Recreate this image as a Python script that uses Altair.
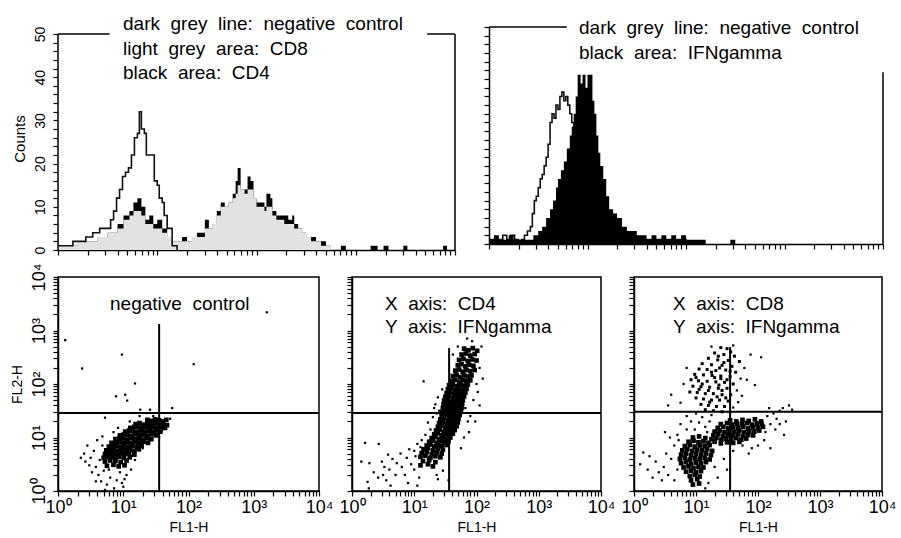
import math
import json
import altair as alt
import pandas as pd

FONT = "Liberation Sans"

# ---------------- top-left histogram (bin start in log10 FL1, counts) ----------------
NEG1_X = [0.00, 0.08, 0.15, 0.22, 0.28, 0.35, 0.42, 0.48, 0.53, 0.56, 0.59, 0.62, 0.65, 0.68, 0.71,
          0.74, 0.77, 0.80, 0.82, 0.84, 0.87, 0.89, 0.93, 0.97, 1.00, 1.02, 1.05, 1.07, 1.10, 1.15, 1.20]
NEG1_Y = [1, 1, 2, 2, 3, 4, 5, 5, 7, 9, 12, 14, 17, 18, 19,
          22, 26, 27, 32, 28, 27, 22, 22, 16, 15, 12, 11, 8, 5, 1, 0]

CD4_X = [0.00, 0.10, 0.20, 0.30, 0.40, 0.50, 0.60, 0.66, 0.72, 0.76, 0.80, 0.84, 0.88, 0.92, 0.96,
         1.00, 1.05, 1.10, 1.15, 1.20, 1.25, 1.30, 1.35, 1.40, 1.45, 1.48, 1.52, 1.56, 1.60, 1.64,
         1.68, 1.72, 1.76, 1.79, 1.81, 1.84, 1.88, 1.91, 1.94, 1.97, 2.00, 2.04, 2.08, 2.10, 2.14,
         2.16, 2.20, 2.24, 2.28, 2.32, 2.36, 2.38, 2.42, 2.46, 2.50, 2.55, 2.60, 2.65, 2.70, 2.75,
         2.85, 2.90, 3.15, 3.22, 3.28, 3.33, 3.48, 3.52, 3.88, 3.92, 4.00]
CD4_Y = [1, 1, 2, 2, 3, 4, 6, 8, 9, 11, 12, 10, 7, 8, 6,
         7, 5, 3, 2, 2, 3, 2, 3, 4, 4, 7, 5, 6, 9, 11,
         10, 11, 13, 16, 19, 14, 14, 17, 16, 12, 11, 11, 10, 13, 12,
         9, 8, 8, 8, 7, 8, 6, 5, 4, 3, 3, 2, 2, 1, 0,
         1, 0, 1, 0, 1, 0, 1, 0, 1, 0, 0]

CD8_X = [0.00, 0.10, 0.20, 0.30, 0.40, 0.50, 0.60, 0.66, 0.72, 0.76, 0.80, 0.84, 0.88, 0.92, 0.96,
         1.00, 1.05, 1.10, 1.15, 1.20, 1.25, 1.30, 1.35, 1.40, 1.45, 1.48, 1.52, 1.56, 1.60, 1.64,
         1.68, 1.72, 1.76, 1.79, 1.81, 1.84, 1.88, 1.91, 1.94, 1.97, 2.00, 2.04, 2.08, 2.10, 2.14,
         2.16, 2.20, 2.24, 2.28, 2.32, 2.36, 2.38, 2.42, 2.46, 2.50, 2.55, 2.60, 2.65, 2.70, 2.75, 4.00]
CD8_Y = [1, 1, 2, 2, 3, 4, 5, 7, 8, 9, 9, 8, 6, 6, 5,
         5, 4, 3, 2, 2, 2, 2, 3, 3, 3, 5, 5, 6, 8, 10,
         10, 11, 12, 13, 15, 14, 13, 14, 14, 12, 10, 10, 9, 10, 10,
         8, 7, 7, 6, 6, 6, 5, 5, 4, 3, 2, 2, 1, 1, 0, 0]

# ---------------- top-right histogram ----------------
NEG2_X = [0.00, 0.05, 0.10, 0.14, 0.18, 0.22, 0.26, 0.30, 0.33, 0.36, 0.39, 0.42, 0.44, 0.46, 0.48,
          0.50, 0.52, 0.54, 0.56, 0.58, 0.60, 0.62, 0.64, 0.66, 0.68, 0.70, 0.72, 0.74, 0.76, 0.78,
          0.80, 0.82, 0.84, 0.86, 0.88, 0.90, 0.95, 1.00, 1.05, 1.10, 1.20, 1.30, 1.50, 2.00]
NEG2_Y = [1, 1, 1, 2, 1, 2, 1, 0, 1, 2, 3, 4, 7, 10, 11,
          13, 15, 16, 18, 20, 23, 28, 30, 29, 32, 31, 34, 35, 33, 34,
          32, 30, 28, 27, 24, 20, 15, 10, 6, 4, 2, 1, 1, 0]

IFN_X = [0.00, 0.05, 0.10, 0.15, 0.20, 0.25, 0.30, 0.35, 0.40, 0.45, 0.50, 0.54, 0.58, 0.62, 0.65,
         0.68, 0.70, 0.73, 0.76, 0.79, 0.82, 0.84, 0.86, 0.88, 0.90, 0.93, 0.95, 0.98, 1.00, 1.03,
         1.05, 1.07, 1.09, 1.11, 1.13, 1.16, 1.19, 1.22, 1.26, 1.30, 1.35, 1.40, 1.45, 1.50, 1.55,
         1.60, 1.65, 1.70, 1.75, 1.80, 1.85, 1.90, 1.95, 2.00, 2.10, 2.20, 2.45, 2.50, 4.00]
IFN_Y = [1, 2, 1, 1, 2, 1, 1, 1, 1, 2, 3, 4, 6, 8, 10,
         13, 15, 17, 19, 22, 25, 27, 30, 34, 39, 37, 39, 36, 39, 39,
         33, 30, 25, 21, 18, 15, 11, 8, 7, 6, 4, 3, 3, 2, 2,
         1, 2, 1, 2, 1, 2, 1, 2, 1, 1, 0, 1, 0, 0]

HIST1_NOTE = ["dark grey line: negative control", "light grey area: CD8", "black area: CD4"]
HIST2_NOTE = ["dark grey line: negative control", "black area: IFNgamma"]

# ---------------- dot plots (log10 FL1-H, log10 FL2-H) ----------------
SC1_DENSE = [(1.37,1.33),(1.43,1.31),(1.49,1.34),(1.55,1.32),(1.61,1.30),(1.66,1.33),
 (1.19,1.25),(1.25,1.27),(1.31,1.24),(1.37,1.26),(1.43,1.25),(1.49,1.27),(1.55,1.24),(1.61,1.26),(1.67,1.23),
 (1.11,1.18),(1.17,1.20),(1.23,1.19),(1.29,1.17),(1.35,1.20),(1.41,1.18),(1.47,1.19),(1.53,1.17),(1.59,1.20),(1.64,1.18),
 (1.03,1.11),(1.09,1.13),(1.15,1.12),(1.21,1.10),(1.27,1.13),(1.33,1.11),(1.39,1.12),(1.45,1.10),(1.51,1.13),(1.57,1.11),
 (0.95,1.04),(1.01,1.06),(1.07,1.05),(1.13,1.03),(1.19,1.06),(1.25,1.04),(1.31,1.05),(1.37,1.03),(1.43,1.06),(1.50,1.04),
 (0.88,0.97),(0.94,0.99),(1.00,0.98),(1.06,0.96),(1.12,0.99),(1.18,0.97),(1.24,0.98),(1.30,0.96),(1.36,0.99),(1.43,0.97),
 (0.82,0.90),(0.88,0.92),(0.94,0.91),(1.00,0.89),(1.06,0.92),(1.12,0.90),(1.18,0.91),(1.24,0.89),(1.31,0.92),(1.38,0.90),
 (0.78,0.83),(0.84,0.85),(0.90,0.84),(0.96,0.82),(1.02,0.85),(1.08,0.83),(1.14,0.84),(1.21,0.82),(1.28,0.85),
 (0.74,0.76),(0.80,0.78),(0.86,0.77),(0.92,0.75),(0.98,0.78),(1.04,0.76),(1.10,0.77),(1.17,0.75),(1.24,0.78),
 (0.72,0.69),(0.78,0.71),(0.84,0.70),(0.90,0.68),(0.96,0.71),(1.02,0.69),(1.09,0.70),(1.17,0.68),
 (0.70,0.62),(0.76,0.64),(0.82,0.63),(0.88,0.61),(0.94,0.64),(1.01,0.62),(1.10,0.63),
 (0.72,0.55),(0.80,0.57),(0.88,0.56),(0.96,0.54),(1.05,0.57),
 (0.75,0.47),(0.85,0.49),(0.93,0.46),(1.02,0.48)]
SC1_SPARSE = [(0.45,0.85),(0.50,0.62),(0.55,0.75),(0.42,0.55),(0.58,0.45),(0.62,0.30),(0.52,0.35),(0.66,0.18),
 (0.75,0.12),(0.80,0.25),(0.86,0.05),(0.90,0.20),(0.98,0.15),(1.05,0.30),(1.12,0.40),(1.18,0.58),(0.60,0.95),
 (0.68,1.02),(0.64,0.58),(0.48,0.48),(0.40,0.70),(0.35,0.62),(0.70,0.38),(0.78,0.40),(0.95,0.35),(1.00,0.08),
 (0.72,0.02),(1.30,0.80),(1.40,0.95),(1.55,1.00),(1.60,1.15),(1.72,1.35),(1.46,1.40),(1.25,1.40),(1.10,1.30),
 (0.92,1.18),(0.85,1.10),(1.75,1.55),(1.26,1.52),(1.41,1.52),(0.72,1.37),(0.89,1.77),(1.03,1.80),(1.06,1.69),
 (1.18,2.01),(0.37,2.29),(0.11,2.82),(0.98,2.55),(2.08,2.37),(3.20,3.34),(1.48,1.22),(0.68,0.85),(0.84,0.48),
 (1.15,0.85),(0.58,0.18),(1.02,0.22),(0.78,0.58)]

SC2_DENSE = [(1.80,2.66),(1.87,2.63),(1.94,2.67),(2.01,2.62),
 (1.76,2.55),(1.83,2.57),(1.90,2.53),(1.97,2.56),
 (1.72,2.45),(1.79,2.47),(1.86,2.43),(1.93,2.46),(2.00,2.44),
 (1.70,2.35),(1.76,2.37),(1.82,2.33),(1.88,2.36),(1.95,2.34),
 (1.66,2.25),(1.72,2.27),(1.78,2.23),(1.84,2.26),(1.90,2.24),(1.97,2.26),
 (1.62,2.15),(1.68,2.17),(1.74,2.13),(1.80,2.16),(1.86,2.14),(1.92,2.16),
 (1.60,2.06),(1.66,2.08),(1.72,2.04),(1.78,2.07),(1.84,2.05),(1.90,2.07),
 (1.56,1.98),(1.62,2.00),(1.68,1.96),(1.74,1.99),(1.80,1.97),(1.86,1.99),
 (1.54,1.90),(1.60,1.92),(1.66,1.88),(1.72,1.91),(1.78,1.89),(1.84,1.91),
 (1.52,1.83),(1.58,1.85),(1.64,1.81),(1.70,1.84),(1.76,1.82),(1.82,1.84),
 (1.50,1.76),(1.56,1.78),(1.62,1.74),(1.68,1.77),(1.74,1.75),(1.80,1.77),
 (1.48,1.69),(1.54,1.71),(1.60,1.67),(1.66,1.70),(1.72,1.68),(1.78,1.70),
 (1.47,1.62),(1.53,1.64),(1.59,1.60),(1.65,1.63),(1.71,1.61),(1.77,1.63),
 (1.46,1.55),(1.52,1.57),(1.58,1.53),(1.64,1.56),(1.70,1.54),(1.76,1.56),
 (1.45,1.48),(1.51,1.50),(1.57,1.46),(1.63,1.49),(1.69,1.47),(1.75,1.49),
 (1.44,1.41),(1.50,1.43),(1.56,1.39),(1.62,1.42),(1.68,1.40),(1.73,1.42),
 (1.42,1.34),(1.48,1.36),(1.54,1.32),(1.60,1.35),(1.66,1.33),(1.71,1.35),
 (1.40,1.27),(1.46,1.29),(1.52,1.25),(1.58,1.28),(1.64,1.26),(1.70,1.28),
 (1.38,1.20),(1.44,1.22),(1.50,1.18),(1.56,1.21),(1.62,1.19),(1.68,1.21),
 (1.35,1.13),(1.41,1.15),(1.47,1.11),(1.53,1.14),(1.59,1.12),(1.65,1.14),
 (1.32,1.06),(1.38,1.08),(1.44,1.04),(1.50,1.07),(1.56,1.05),(1.62,1.07),
 (1.28,0.99),(1.34,1.01),(1.40,0.97),(1.46,1.00),(1.52,0.98),(1.58,1.00),
 (1.24,0.92),(1.30,0.94),(1.36,0.90),(1.42,0.93),(1.48,0.91),(1.55,0.93),
 (1.20,0.85),(1.26,0.87),(1.32,0.83),(1.38,0.86),(1.44,0.84),(1.52,0.86),
 (1.15,0.78),(1.22,0.80),(1.30,0.76),(1.38,0.79),(1.46,0.77),
 (1.12,0.71),(1.20,0.73),(1.28,0.69),(1.36,0.72),(1.44,0.70),
 (1.10,0.64),(1.18,0.66),(1.26,0.62),(1.34,0.65),(1.42,0.63),
 (1.14,0.56),(1.24,0.58),(1.34,0.54),
 (1.10,0.48),(1.22,0.50),(1.30,0.46)]
SC2_SPARSE = [(0.21,0.90),(0.43,0.88),(0.28,0.52),(0.48,0.55),(0.52,0.45),(0.50,0.30),(0.25,0.17),(0.27,0.05),
 (0.42,0.25),(0.60,0.40),(0.65,0.60),(0.72,0.52),(0.78,0.70),(0.80,0.45),(0.85,0.30),(0.88,0.62),(0.92,0.78),
 (0.95,0.50),(1.00,0.40),(1.02,0.65),(1.05,0.88),(1.08,0.25),(1.12,0.95),(1.18,1.05),(1.22,1.28),(1.30,1.38),
 (1.15,2.05),(1.45,1.90),(1.38,1.75),(1.32,1.55),(1.34,1.62),(1.95,1.70),(2.02,1.85),(1.90,1.40),(1.88,1.10),
 (2.05,2.30),(2.08,2.70),(1.85,2.85),(1.93,2.80),(2.10,2.10),(1.98,1.30),(1.55,0.20),(1.05,0.10),(0.62,0.10),
 (0.15,0.55),(1.36,0.30),(1.46,0.38),(0.70,0.30),(0.90,0.15),(1.25,0.55),(1.00,0.75),(1.10,0.82),(0.58,0.68),
 (1.40,1.50),(1.36,1.45),(1.26,1.15),(1.82,1.55),(1.86,1.30),(2.00,2.00),(2.05,1.60),(1.62,2.55),(1.70,2.70),
 (1.38,0.22),(0.35,0.35),(0.55,0.20),(1.75,0.80),(1.80,1.00)]

SC3_DENSE = [(1.55,1.32),(1.65,1.30),(1.75,1.33),(1.85,1.31),(1.95,1.34),(2.05,1.30),
 (1.40,1.25),(1.50,1.27),(1.58,1.24),(1.66,1.26),(1.74,1.25),(1.82,1.27),(1.90,1.24),(1.98,1.26),(2.06,1.25),
 (1.35,1.18),(1.44,1.20),(1.52,1.17),(1.60,1.19),(1.68,1.18),(1.76,1.20),(1.84,1.17),(1.92,1.19),(2.00,1.18),(2.08,1.20),
 (1.30,1.11),(1.38,1.13),(1.46,1.10),(1.54,1.12),(1.62,1.11),(1.70,1.13),(1.78,1.10),(1.86,1.12),(1.94,1.11),(2.02,1.13),
 (1.28,1.04),(1.36,1.06),(1.44,1.03),(1.52,1.05),(1.60,1.04),(1.68,1.06),(1.76,1.03),(1.84,1.05),(1.92,1.04),
 (1.25,0.97),(1.33,0.99),(1.41,0.96),(1.49,0.98),(1.57,0.97),(1.65,0.99),(1.73,0.96),(1.81,0.98),
 (1.20,0.90),(1.30,0.92),(1.40,0.89),(1.50,0.91),(1.60,0.90),(1.70,0.92),
 (0.95,1.00),(1.05,1.02),(1.15,0.99),
 (0.88,0.92),(0.96,0.94),(1.04,0.91),(1.12,0.93),
 (0.82,0.84),(0.90,0.86),(0.98,0.83),(1.06,0.85),(1.14,0.84),(1.22,0.86),
 (0.78,0.76),(0.86,0.78),(0.94,0.75),(1.02,0.77),(1.10,0.76),(1.18,0.78),(1.26,0.75),
 (0.76,0.68),(0.84,0.70),(0.92,0.67),(1.00,0.69),(1.08,0.68),(1.16,0.70),(1.24,0.67),
 (0.74,0.60),(0.82,0.62),(0.90,0.59),(0.98,0.61),(1.06,0.60),(1.14,0.62),(1.22,0.59),
 (0.76,0.52),(0.84,0.54),(0.92,0.51),(1.00,0.53),(1.08,0.52),(1.16,0.54),
 (0.80,0.44),(0.88,0.46),(0.96,0.43),(1.04,0.45),(1.12,0.44),
 (0.84,0.36),(0.92,0.38),(1.00,0.35),(1.08,0.37),
 (0.90,0.28),(0.98,0.30),(1.06,0.27),
 (0.92,0.20),(1.02,0.22),(0.95,0.12),(1.05,0.14)]
SC3_UPPER = [(1.40,2.68),(1.50,2.66),(1.56,2.60),(1.30,2.58),(1.45,2.55),(1.62,2.52),(1.20,2.48),(1.35,2.45),(1.52,2.44),
 (1.70,2.42),(1.10,2.38),(1.25,2.36),(1.42,2.35),(1.58,2.33),(1.05,2.28),(1.18,2.27),(1.32,2.25),(1.48,2.26),
 (1.64,2.22),(0.98,2.18),(1.12,2.17),(1.26,2.16),(1.40,2.15),(1.55,2.14),(0.92,2.08),(1.04,2.06),(1.18,2.05),
 (1.32,2.04),(1.46,2.03),(1.60,2.00),(0.95,1.96),(1.08,1.95),(1.22,1.94),(1.36,1.92),(1.50,1.92),(0.90,1.85),
 (1.02,1.84),(1.15,1.82),(1.28,1.82),(1.42,1.80),(1.56,1.80),(1.00,1.74),(1.12,1.72),(1.25,1.70),(1.38,1.70),
 (1.52,1.68),(1.08,1.62),(1.20,1.60),(1.33,1.58),(1.46,1.58),(1.15,1.52),(1.28,1.50),(1.42,1.48),(1.38,2.30),
 (1.40,2.10),(1.37,1.98),(1.42,1.88),(1.45,2.40),(1.30,2.12),(1.20,1.88),(1.05,1.90),(1.34,1.76),(1.48,1.74),
 (1.10,2.00),(1.25,2.22),(1.55,2.24),(1.36,2.52),(1.22,1.66),(1.00,2.12),(1.50,2.08)]
SC3_SPARSE = [(1.72,2.10),(1.66,1.88),(1.74,1.78),(1.68,1.66),(1.60,1.56),(1.55,1.46),(0.60,1.80),(1.82,2.08),
 (1.95,1.98),(1.88,2.55),(2.05,2.50),(1.78,2.30),(1.25,2.70),(1.60,2.72),(0.85,2.30),(0.80,2.00),(0.75,1.65),
 (2.15,1.40),(2.25,1.45),(2.35,1.50),(2.40,1.55),(2.30,1.35),(2.20,1.25),(2.45,1.30),(2.12,1.10),(2.28,1.15),
 (2.18,1.55),(2.35,1.25),(2.50,1.60),(2.55,1.52),(2.10,0.95),(2.00,0.85),(1.90,0.80),(1.85,0.70),(2.20,0.80),
 (1.60,0.75),(1.75,0.85),(1.45,0.60),(2.42,1.05),(1.50,0.40),(1.30,0.45),(1.35,0.25),(0.15,0.72),(0.25,0.65),
 (0.22,0.40),(0.35,0.55),(0.40,0.35),(0.30,0.25),(0.48,0.45),(0.55,0.30),(0.60,0.60),(0.52,0.70),(0.65,0.85),
 (0.58,1.00),(0.70,1.05),(0.50,1.10),(0.65,0.20),(0.45,0.20),(0.10,0.50),(0.75,1.25),(0.85,1.15),(0.55,1.60),
 (1.15,1.20),(1.22,1.30),(1.10,1.38),(1.05,1.28),(0.98,1.15),(1.25,1.42),(1.18,1.10),(0.92,1.30),(0.85,1.40),
 (1.00,1.45),(0.70,0.40),(0.72,0.95),(1.20,0.15),(1.15,0.05)]

# quadrant markers (log10 units) for the three dot plots
QUAD_X = [1.55, 1.56, 1.55]
QUAD_Y = [1.46, 1.46, 1.48]
QUAD_TOP = [3.12, 2.67, 2.69]
SC_NOTES = [["negative control"], ["X axis: CD4", "Y axis: IFNgamma"], ["X axis: CD8", "Y axis: IFNgamma"]]

DECADE_LABELS = ["10\u2070", "10\u00b9", "10\u00b2", "10\u00b3", "10\u2074"]
COUNT_TICKS = list(range(0, 51, 2))

# ---------------- helpers ----------------
LOG_TICKS = sorted({round(math.log10(k * 10 ** n), 5) for n in range(4) for k in range(1, 10)} | {4.0})
LOG_LABEL_EXPR = ("abs(datum.value - round(datum.value)) < 0.001 ? "
                  + json.dumps(DECADE_LABELS, ensure_ascii=False) + "[round(datum.value)] : ''")

XS = alt.Scale(domain=[0, 4], nice=False, zero=False)


def note(lines, x, y, size=19, lh=24.5):
    txt = "\n".join(l.replace(" ", " \u00a0") for l in lines)
    return alt.Chart(pd.DataFrame({"t": [txt]})).mark_text(
        align="left", baseline="alphabetic", lineBreak="\n", lineHeight=lh,
        font=FONT, fontSize=size, color="black"
    ).encode(text="t:N", x=alt.value(x), y=alt.value(y))


def hist_axes(ymax, show_labels, show_domain):
    xax = alt.Axis(values=LOG_TICKS, labels=False, title=None, tickSize=5, tickWidth=1.2,
                   domainWidth=1.5, grid=False)
    if show_labels:
        yax = alt.Axis(values=COUNT_TICKS, labelExpr="datum.value % 10 == 0 ? datum.value : ''",
                       labelAngle=270, labelAlign="center", labelBaseline="bottom", labelFontSize=14,
                       labelPadding=6, labelFlush=False, tickSize=5, tickWidth=1.2, domain=show_domain,
                       domainWidth=1.5, title="Counts", titleFontSize=15, titlePadding=6, grid=False)
    else:
        yax = alt.Axis(values=COUNT_TICKS, labels=False, title=None, tickSize=5, tickWidth=1.2,
                       domain=show_domain, domainWidth=1.5, grid=False)
    ys = alt.Scale(domain=[0, ymax], nice=False, zero=True)
    X = lambda f: alt.X(f, type="quantitative", scale=XS, axis=xax)
    Y = lambda f: alt.Y(f, type="quantitative", scale=ys, axis=yax)
    return X, Y


def series(xs, ys):
    return pd.DataFrame({"x": xs, "c": ys})


def segments(rows):
    return pd.DataFrame(rows, columns=["x", "x2", "y", "y2"])


# ---------------- top-left histogram ----------------
H1_W, H1_H = 397, 223
H1_YMAX = 50 * H1_H / 216.0
X1, Y1 = hist_axes(H1_YMAX, True, False)
hist1 = alt.layer(
    alt.Chart(series(CD4_X, CD4_Y)).mark_area(interpolate="step-after", color="black").encode(x=X1("x"), y=Y1("c")),
    alt.Chart(series(CD8_X, CD8_Y)).mark_area(interpolate="step-after", color="#e2e2e2").encode(x=X1("x"), y=Y1("c")),
    alt.Chart(series(NEG1_X, NEG1_Y)).mark_line(interpolate="step-after", color="#111", strokeWidth=1.6).encode(x=X1("x"), y=Y1("c")),
    alt.Chart(segments([[0, 0, 0, 50], [4, 4, 0, 50], [0, 0.52, 50, 50], [3.72, 4, 50, 50]])).mark_rule(
        color="black", strokeWidth=1.5).encode(x=X1("x"), x2="x2", y=Y1("y"), y2="y2"),
    note(HIST1_NOTE, 65, 3),
).properties(width=H1_W, height=H1_H)

# ---------------- top-right histogram ----------------
H2_W, H2_H = 394, 217
X2, Y2 = hist_axes(50, False, True)
hist2 = alt.layer(
    alt.Chart(series(NEG2_X, NEG2_Y)).mark_line(interpolate="step-after", color="#111", strokeWidth=1.6).encode(x=X2("x"), y=Y2("c")),
    alt.Chart(series(IFN_X, IFN_Y)).mark_area(interpolate="step-after", color="black").encode(x=X2("x"), y=Y2("c")),
    alt.Chart(segments([[0, 0.79, 50, 50], [4, 4, 0, 39.6]])).mark_rule(
        color="black", strokeWidth=1.5).encode(x=X2("x"), x2="x2", y=Y2("y"), y2="y2"),
    note(HIST2_NOTE, 90, 7),
).properties(width=H2_W, height=H2_H)


# ---------------- dot plots ----------------
def dotplot(i, dense, medium, sparse, w, show_y):
    xax = alt.Axis(values=LOG_TICKS, labelExpr=LOG_LABEL_EXPR, labelFontSize=18, labelPadding=2,
                   labelFlush=False, tickSize=5, tickWidth=1.2, domainWidth=1.5, grid=False,
                   title="FL1-H", titleFontSize=14, titlePadding=4)
    if show_y:
        yax = alt.Axis(values=LOG_TICKS, labelExpr=LOG_LABEL_EXPR, labelFontSize=18, labelAngle=270,
                       labelAlign="center", labelBaseline="bottom", labelPadding=5, labelFlush=False,
                       tickSize=5, tickWidth=1.2, domainWidth=1.5, grid=False, title="FL2-H",
                       titleFontSize=14, titlePadding=6)
    else:
        yax = alt.Axis(values=LOG_TICKS, labels=False, title=None, tickSize=5, tickWidth=1.2,
                       domainWidth=1.5, grid=False)
    ys = alt.Scale(domain=[0, 4], nice=False, zero=False)
    X = lambda f: alt.X(f, type="quantitative", scale=XS, axis=xax)
    Y = lambda f: alt.Y(f, type="quantitative", scale=ys, axis=yax)
    q = pd.DataFrame({"qx": [QUAD_X[i]], "qy": [QUAD_Y[i]], "qt": [QUAD_TOP[i]], "lo": [0.0], "hi": [4.0]})
    layers = [
        alt.Chart(pd.DataFrame(dense, columns=["fl1", "fl2"])).mark_square(size=22, color="black", opacity=1).encode(x=X("fl1"), y=Y("fl2")),
        alt.Chart(pd.DataFrame(sparse, columns=["fl1", "fl2"])).mark_square(size=5, color="black", opacity=1).encode(x=X("fl1"), y=Y("fl2")),
    ]
    if medium:
        layers.append(alt.Chart(pd.DataFrame(medium, columns=["fl1", "fl2"])).mark_square(size=9, color="black", opacity=1).encode(x=X("fl1"), y=Y("fl2")))
    layers += [
        alt.Chart(q).mark_rule(color="black", strokeWidth=2).encode(x=X("qx"), y=Y("lo"), y2="qt"),
        alt.Chart(q).mark_rule(color="black", strokeWidth=2).encode(y=Y("qy"), x=X("lo"), x2="hi"),
    ]
    if i == 0:
        layers.append(note(SC_NOTES[i], 52, 33, size=19))
    else:
        layers.append(note(SC_NOTES[i], 33 if i == 1 else 39, 33, size=19, lh=23))
    return alt.layer(*layers).properties(
        width=w, height=214, view=alt.ViewBackground(stroke="black", strokeWidth=1.5))


sc1 = dotplot(0, SC1_DENSE, None, SC1_SPARSE, 261, True)
sc2 = dotplot(1, SC2_DENSE, None, SC2_SPARSE, 249, False)
sc3 = dotplot(2, SC3_DENSE, SC3_UPPER, SC3_SPARSE, 248, False)

top = alt.hconcat(hist1, hist2, spacing=34, bounds="flush")
bottom = alt.hconcat(sc1, sc2, sc3, spacing=33, bounds="flush")

chart = alt.vconcat(top, bottom, spacing=6).properties(
    padding={"left": 9, "top": 15, "right": 0, "bottom": 0}
).configure_view(stroke=None).configure_axis(
    labelFont=FONT, titleFont=FONT, labelColor="black", titleColor="black",
    domainColor="black", tickColor="black", titleFontWeight="normal"
)

chart.save("out.html", embed_options={"renderer": "svg", "actions": False})
